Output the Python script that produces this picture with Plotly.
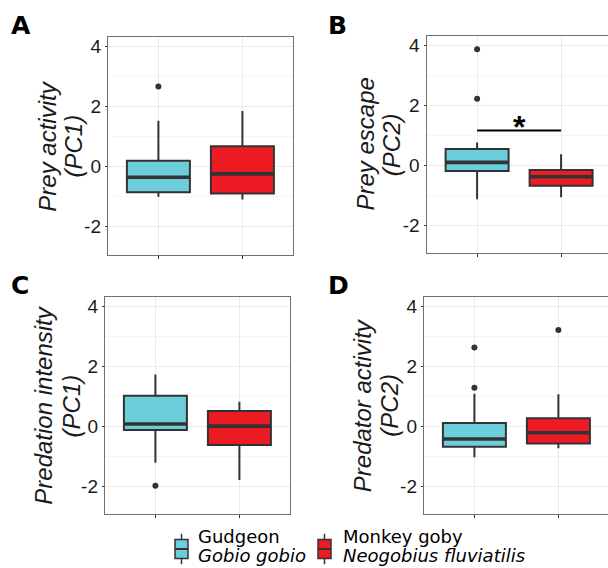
import plotly.graph_objects as go

W, H = 608, 568

species = ["Gudgeon", "Monkey goby"]
species_latin = ["Gobio gobio", "Neogobius fluviatilis"]
positions = [1, 2]
colors = ["#6ccddb", "#ed1c24"]

panel_letters = ["A", "B", "C", "D"]
title_line1 = ["Prey activity", "Prey escape", "Predation intensity", "Predator activity"]
title_line2 = ["(PC1)", "(PC2)", "(PC1)", "(PC2)"]

y_tickvals = [-2, 0, 2, 4]
y_ticktext = ["-2", "0", "2", "4"]

# Box statistics per panel: [Gudgeon, Monkey goby]
low_A = [-1.00, -1.09]
q1_A = [-0.85, -0.89]
med_A = [-0.35, -0.24]
q3_A = [0.20, 0.68]
high_A = [1.53, 1.86]
out_A = [[2.67], []]

low_B = [-1.12, -1.05]
q1_B = [-0.18, -0.67]
med_B = [0.11, -0.37]
q3_B = [0.56, -0.14]
high_B = [0.77, 0.38]
out_B = [[3.88, 2.23], []]

low_C = [-1.20, -1.78]
q1_C = [-0.11, -0.61]
med_C = [0.09, 0.02]
q3_C = [1.03, 0.52]
high_C = [1.74, 0.83]
out_C = [[-1.97], []]

low_D = [-1.02, -0.72]
q1_D = [-0.67, -0.56]
med_D = [-0.41, -0.20]
q3_D = [0.12, 0.28]
high_D = [1.10, 1.08]
out_D = [[2.64, 1.30], [3.22]]

sig_B_y = 1.17  # significance bar height in panel B

panels = [
    (low_A, q1_A, med_A, q3_A, high_A, out_A),
    (low_B, q1_B, med_B, q3_B, high_B, out_B),
    (low_C, q1_C, med_C, q3_C, high_C, out_C),
    (low_D, q1_D, med_D, q3_D, high_D, out_D),
]

# panel pixel boxes (left, right, top, bottom)
boxes_px = [
    (108, 293, 37, 255),
    (426.7, 608, 36, 253),
    (105, 290, 297.3, 514),
    (424, 608, 297.3, 514),
]
zero_px = [166.7, 165.7, 426.7, 426.7]
unit_px = 30.0
cat_px = 84.0

# axis title line centres (px)
title_x1 = [46.7, 365, 44, 362.5]
title_x2 = [72.5, 391.7, 71.7, 390]
title_cy = [146, 144.5, 405.7, 405.7]


def px_x(x):
    return x / W


def px_y(y):
    return 1 - y / H


BOX_W = 0.75
LINE = "#333333"
TXT = "#1a1a1a"
fig = go.Figure()

for i, (low, q1, med, q3, high, outs) in enumerate(panels):
    ax = "" if i == 0 else str(i + 1)
    for j in range(2):
        fig.add_trace(go.Box(
            x=[positions[j]], q1=[q1[j]], median=[med[j]], q3=[q3[j]],
            lowerfence=[low[j]], upperfence=[high[j]],
            width=BOX_W, fillcolor=colors[j], boxpoints=False,
            line=dict(color=LINE, width=2), whiskerwidth=0,
            name=species[j], showlegend=False, hoverinfo="skip",
            xaxis="x" + ax, yaxis="y" + ax))
        fig.add_trace(go.Scatter(
            x=[positions[j] - BOX_W / 2, positions[j] + BOX_W / 2],
            y=[med[j], med[j]], mode="lines",
            line=dict(color=LINE, width=3.6), showlegend=False,
            hoverinfo="skip", xaxis="x" + ax, yaxis="y" + ax))
        if outs[j]:
            fig.add_trace(go.Scatter(
                x=[positions[j]] * len(outs[j]), y=outs[j], mode="markers",
                marker=dict(color=LINE, size=6), showlegend=False,
                hoverinfo="skip", xaxis="x" + ax, yaxis="y" + ax))

    l, r, t, b = boxes_px[i]
    right_panel = i in (1, 3)
    xmax = 0.4 + (r - l) / cat_px
    ytop = (zero_px[i] - t) / unit_px
    ybot = -(b - zero_px[i]) / unit_px
    xa = dict(domain=[px_x(l), px_x(r)], range=[0.4, xmax],
              tickvals=positions, ticktext=["", ""], ticks="outside",
              ticklen=3, tickcolor=LINE, showgrid=True, gridcolor="#ebebeb",
              gridwidth=1, showline=True, linecolor="#707070", linewidth=1.4,
              mirror=True, zeroline=False, anchor="y" + ax)
    ya = dict(domain=[px_y(b), px_y(t)], range=[ybot, ytop],
              tickvals=y_tickvals, ticktext=y_ticktext, ticks="outside",
              ticklen=2, tickcolor=LINE, showgrid=True, gridcolor="#ebebeb",
              gridwidth=1,
              minor=dict(tick0=1, dtick=2, showgrid=True, gridcolor="#f5f5f5",
                         ticks=""),
              showline=True, linecolor="#707070", linewidth=1.4,
              mirror=not right_panel, zeroline=False, anchor="x" + ax,
              tickfont=dict(family="Liberation Sans", size=19, color=TXT))
    fig.layout["xaxis" + ax] = xa
    fig.layout["yaxis" + ax] = ya

    # two-line axis title
    for tx, txt in ((title_x1[i], title_line1[i]), (title_x2[i], title_line2[i])):
        fig.add_annotation(xref="paper", yref="paper", x=px_x(tx), y=px_y(title_cy[i]),
                           xanchor="center", yanchor="middle", textangle=-90,
                           text="<i>%s</i>" % txt, showarrow=False,
                           font=dict(family="Liberation Sans", size=24, color=TXT))

# significance bar in panel B
fig.add_shape(type="line", xref="x2", yref="y2", x0=positions[0], x1=positions[1],
              y0=sig_B_y, y1=sig_B_y, line=dict(color="black", width=2))
fig.add_annotation(xref="x2", yref="y2", x=(positions[0] + positions[1]) / 2,
                   y=sig_B_y + 0.12, yanchor="middle", text="<b>*</b>", showarrow=False,
                   font=dict(family="Liberation Sans", size=32, color="black"))

# panel letters
letter_pos = [(9, 25), (325.5, 25), (9, 285.5), (325.5, 285.5)]
for letter, (lx, ly) in zip(panel_letters, letter_pos):
    fig.add_annotation(xref="paper", yref="paper", x=px_x(lx), y=px_y(ly),
                       xanchor="left", yanchor="middle", text="<b>%s</b>" % letter,
                       showarrow=False,
                       font=dict(family="DejaVu Sans", size=25, color="black"))

# legend (drawn as keys + two-line labels)
key_left = [175, 318]
text_left = [196, 340.5]
key_w, key_cy, key_h = 13, 549, 38
for j in range(2):
    x0 = key_left[j]
    x1 = x0 + key_w
    xc = (x0 + x1) / 2
    fig.add_shape(type="line", xref="paper", yref="paper",
                  x0=px_x(xc), x1=px_x(xc),
                  y0=px_y(key_cy - 0.4 * key_h), y1=px_y(key_cy + 0.4 * key_h),
                  line=dict(color=LINE, width=1.5))
    fig.add_shape(type="rect", xref="paper", yref="paper",
                  x0=px_x(x0), x1=px_x(x1),
                  y0=px_y(key_cy - 0.25 * key_h), y1=px_y(key_cy + 0.25 * key_h),
                  fillcolor=colors[j], line=dict(color=LINE, width=1.5))
    fig.add_shape(type="line", xref="paper", yref="paper",
                  x0=px_x(x0), x1=px_x(x1),
                  y0=px_y(key_cy), y1=px_y(key_cy),
                  line=dict(color=LINE, width=2))
    fig.add_annotation(xref="paper", yref="paper", x=px_x(text_left[j]),
                       y=px_y(536.5), xanchor="left", yanchor="middle",
                       text=species[j], showarrow=False,
                       font=dict(family="DejaVu Sans", size=18, color="black"))
    fig.add_annotation(xref="paper", yref="paper", x=px_x(text_left[j]),
                       y=px_y(555.5), xanchor="left", yanchor="middle",
                       text="<i>%s</i>" % species_latin[j], showarrow=False,
                       font=dict(family="DejaVu Sans", size=18, color="black"))

fig.update_layout(width=W, height=H, margin=dict(l=0, r=0, t=0, b=0),
                  paper_bgcolor="white", plot_bgcolor="white", showlegend=False,
                  boxmode="overlay")

fig.write_html("out.html", config={"displayModeBar": False},
               post_script="document.body.style.margin='0';document.body.style.overflow='hidden';")
